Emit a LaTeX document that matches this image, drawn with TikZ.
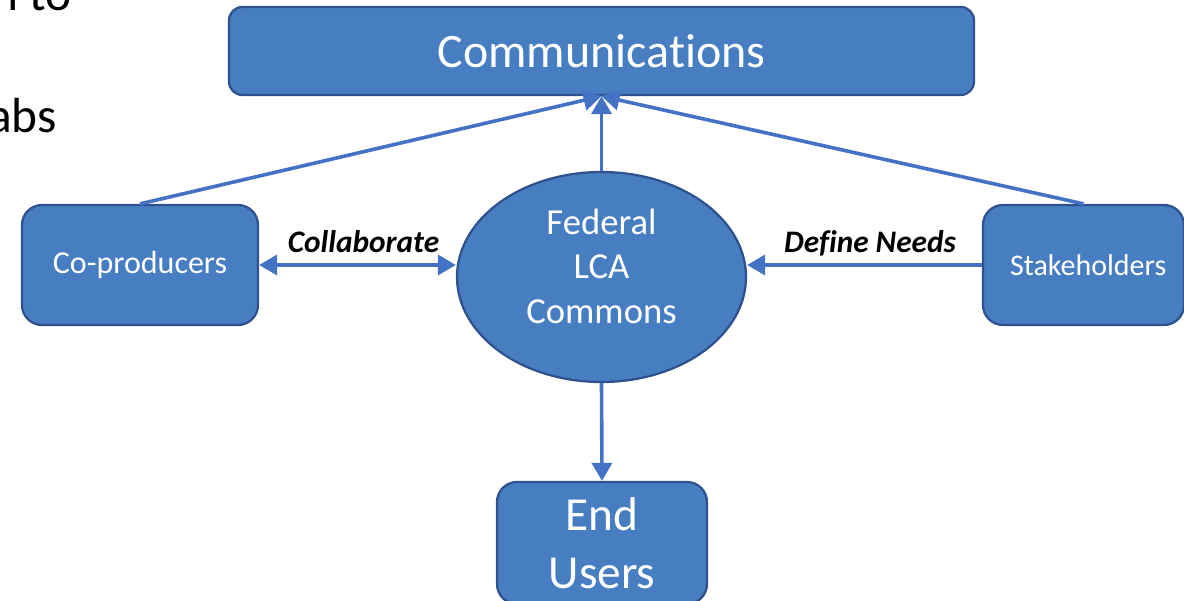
\documentclass[tikz,border=0pt]{standalone}
\usepackage{fontspec}
\setmainfont{Carlito}[Ligatures=CommonOff]
\usetikzlibrary{arrows.meta,shapes.geometric}

\definecolor{shapefill}{RGB}{71,126,193}
\definecolor{shapeline}{RGB}{47,82,143}
\definecolor{arrowblue}{RGB}{68,114,196}

\tikzset{
  flowtip/.tip={Triangle[length=13.5pt,width=15pt]},
  blockbox/.style={draw=shapeline, fill=shapefill, line width=1.7pt, text=white, inner sep=0pt, align=center},
  flowarrow/.style={draw=arrowblue, line width=2.7pt, -flowtip},
  flowlabel/.style={anchor=base, inner sep=0pt, font=\fontsize{23.5}{28}\selectfont\bfseries\itshape},
}

\begin{document}
\begin{tikzpicture}[x=0.75pt,y=0.75pt,yscale=-1,xscale=1]
\useasboundingbox (0,0) rectangle (1184,600);

% Bullet text running off the left edge
\node (bulletA) [anchor=base east, inner sep=0pt, font=\fontsize{37}{44}\selectfont] at (72,10) {n to};
\node (bulletB) [anchor=base east, inner sep=0pt, font=\fontsize{37}{44}\selectfont] at (57,132) {abs};

% Rounded boxes
\node (comm) [blockbox, rounded corners=10pt, minimum width=558.75pt, minimum height=66pt, font=\fontsize{36}{42}\selectfont] at (601.5,51) {Communications};
\node (coprod) [blockbox, rounded corners=15pt, minimum width=177pt, minimum height=90pt, font=\fontsize{24}{28}\selectfont] at (140,265) {Co-producers};
\node (stake) [blockbox, rounded corners=15pt, minimum width=150.75pt, minimum height=90pt, font=\fontsize{22.5}{28}\selectfont] at (1083.5,265) {\hspace*{7pt}Stakeholders};
\node (users) [blockbox, rounded corners=15pt, minimum width=157.5pt, minimum height=91.5pt, font=\fontsize{35.5}{43.5}\selectfont] at (602,543) {End\\Users};

% Centre ellipse
\node (fed) [blockbox, ellipse, minimum width=216.75pt, minimum height=157.5pt] at (601.5,277) {};
\node (fedtext) [text=white, align=center, inner sep=0pt, font=\fontsize{27.5}{33.4}\selectfont] at (601.5,266) {Federal\\LCA\\Commons};

% Arrows
\draw [flowarrow] (coprod.north) -- (comm.south);
\draw [flowarrow] (stake.north) -- (comm.south);
\draw [flowarrow] (fed.north) -- (comm.south);
\draw [flowarrow] (fed.south) -- (users.north);
\draw [flowarrow, flowtip-flowtip] (coprod.east) -- (coprod.east -| fed.west);
\draw [flowarrow] (stake.west) -- (stake.west -| fed.east);

% Arrow labels
\node (collab) [flowlabel] at (363.5,252) {Collaborate};
\node (needs) [flowlabel] at (870,252) {Define Needs};

\end{tikzpicture}
\end{document}
